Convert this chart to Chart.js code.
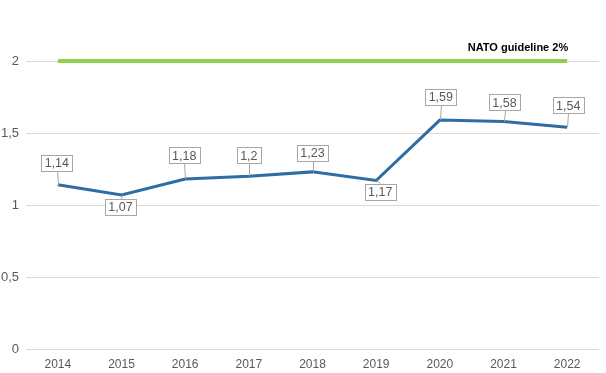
<!DOCTYPE html>
<html>
<head>
<meta charset="utf-8">
<script src="https://cdn.jsdelivr.net/npm/chart.js@4/dist/chart.umd.min.js"></script>
<style>
  html, body { margin: 0; padding: 0; background: #fff; }
  #wrap { width: 606px; height: 373px; position: relative; }
</style>
</head>
<body>
<div id="wrap"><canvas id="chart"></canvas></div>
<script>
// data
const years = ['2014', '2015', '2016', '2017', '2018', '2019', '2020', '2021', '2022'];
const spending = [1.14, 1.07, 1.18, 1.2, 1.23, 1.17, 1.59, 1.58, 1.54];
const guideline = [2, 2, 2, 2, 2, 2, 2, 2, 2];
const guidelineLabel = 'NATO guideline 2%';

// where each value box sits relative to its point (px)
const labelOffsets = [[-1, -22], [-1, 12], [-1, -24], [0, -21], [0, -19], [4, 11], [1, -23], [1, -19], [1, -22]];

const fmt = v => String(v).replace('.', ',');

const labelPlugin = {
  id: 'valueBoxes',
  afterDatasetsDraw(chart) {
    const ctx = chart.ctx;
    const pts = chart.getDatasetMeta(0).data;
    ctx.save();
    ctx.font = '12.5px "Liberation Sans", Arial, sans-serif';
    ctx.textAlign = 'center';
    ctx.textBaseline = 'middle';
    pts.forEach((p, i) => {
      const txt = fmt(spending[i]);
      const cx = p.x + labelOffsets[i][0];
      const cy = p.y + labelOffsets[i][1];
      const w = ctx.measureText(txt).width + 7;
      const h = 16;
      // leader line
      ctx.strokeStyle = '#a6a6a6';
      ctx.lineWidth = 1;
      ctx.beginPath();
      const edgeY = cy < p.y ? cy + h / 2 : cy - h / 2;
      ctx.moveTo(Math.round(cx) + 0.5, edgeY);
      ctx.lineTo(Math.round(p.x) + 0.5, p.y);
      ctx.stroke();
      ctx.fillStyle = '#fff';
      ctx.fillRect(Math.round(cx - w / 2) + 0.5, Math.round(cy - h / 2) + 0.5, Math.round(w), h);
      ctx.strokeRect(Math.round(cx - w / 2) + 0.5, Math.round(cy - h / 2) + 0.5, Math.round(w), h);
      ctx.fillStyle = '#595959';
      ctx.fillText(txt, cx, cy + 1);
    });
    // guideline label
    const gpts = chart.getDatasetMeta(1).data;
    const last = gpts[gpts.length - 1];
    ctx.font = 'bold 11px "Liberation Sans", Arial, sans-serif';
    ctx.textAlign = 'right';
    ctx.textBaseline = 'alphabetic';
    ctx.fillStyle = '#000';
    ctx.fillText(guidelineLabel, last.x + 1, last.y - 10);
    ctx.restore();
  }
};

new Chart(document.getElementById('chart'), {
  type: 'line',
  data: {
    labels: years,
    datasets: [
      {
        data: spending,
        borderColor: '#2e6da4',
        borderWidth: 3,
        pointRadius: 0,
        tension: 0,
        fill: false
      },
      {
        data: guideline,
        borderColor: '#92d050',
        borderWidth: 4,
        pointRadius: 0,
        tension: 0,
        fill: false
      }
    ]
  },
  options: {
    responsive: true,
    maintainAspectRatio: false,
    animation: false,
    layout: { padding: { top: 25, right: 7, left: 0, bottom: 0 } },
    plugins: { legend: { display: false }, tooltip: { enabled: false } },
    scales: {
      x: {
        offset: true,
        grid: { display: false, drawTicks: false },
        border: { display: false },
        ticks: {
          color: '#595959',
          padding: 8,
          font: { family: '"Liberation Sans", Arial, sans-serif', size: 12 }
        },
        afterFit: s => { s.height = 24; }
      },
      y: {
        min: 0,
        max: 2.25,
        grid: { color: '#d9d9d9', drawTicks: false },
        border: { display: false },
        afterBuildTicks: s => {
          s.ticks = [0, 0.5, 1, 1.5, 2].map(v => ({ value: v }));
        },
        ticks: {
          color: '#595959',
          padding: 7,
          font: { family: '"Liberation Sans", Arial, sans-serif', size: 13 },
          callback: v => fmt(v)
        },
        afterFit: s => { s.width = 26; }
      }
    }
  },
  plugins: [labelPlugin]
});
</script>
</body>
</html>
